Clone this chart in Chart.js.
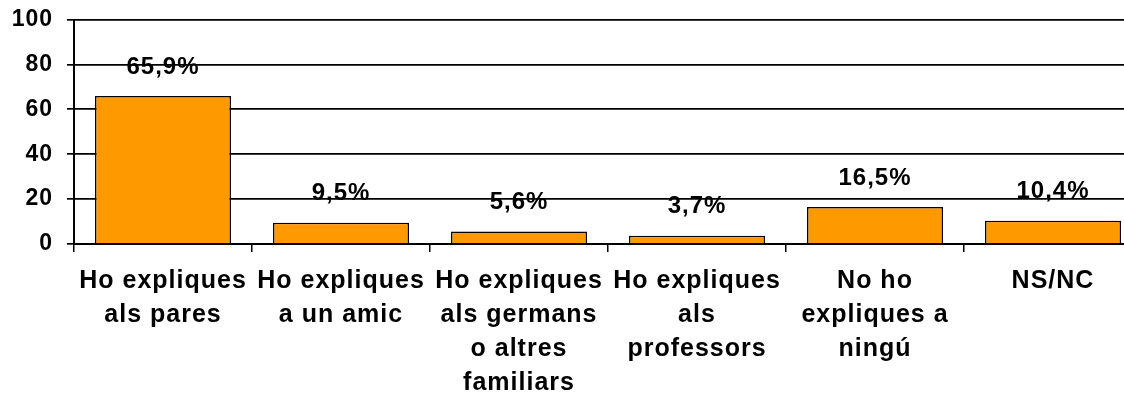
<!DOCTYPE html>
<html>
<head>
<meta charset="utf-8">
<script src="https://cdn.jsdelivr.net/npm/chart.js@4"></script>
<style>
  html, body { margin: 0; padding: 0; background: #ffffff; overflow: hidden; }
  #wrap { width: 1150px; height: 395px; }
</style>
</head>
<body>
<div id="wrap"><canvas id="chart" width="1150" height="395"></canvas></div>
<script>
const categories = [
    ['Ho expliques', 'als pares'],
    ['Ho expliques', 'a un amic'],
    ['Ho expliques', 'als germans', 'o altres', 'familiars'],
    ['Ho expliques', 'als', 'professors'],
    ['No ho', 'expliques a', 'ningú'],
    ['NS/NC']
];
const percentages = [65.9, 9.5, 5.6, 3.7, 16.5, 10.4];
const yTicks = [0, 20, 40, 60, 80, 100];

const FONT = "'Liberation Sans', Arial, sans-serif";

// wider lettering; the canvas state is reset on resize, so set it each update/draw
const wideText = {
    id: 'wideText',
    beforeUpdate(chart) { chart.ctx.letterSpacing = '1px'; },
    beforeDraw(chart) { chart.ctx.letterSpacing = '1px'; }
};

// percentage written above each bar, Catalan decimal comma
const valueLabels = {
    id: 'valueLabels',
    afterDatasetsDraw(chart) {
        const ctx = chart.ctx;
        const meta = chart.getDatasetMeta(0);
        ctx.save();
        ctx.font = 'bold 24px ' + FONT;
        ctx.fillStyle = '#000000';
        ctx.textAlign = 'center';
        ctx.textBaseline = 'middle';
        meta.data.forEach((bar, i) => {
            const txt = percentages[i].toFixed(1).replace('.', ',') + '%';
            ctx.fillText(txt, bar.x, bar.y - 29);
        });
        ctx.restore();
    }
};

new Chart(document.getElementById('chart'), {
    type: 'bar',
    data: {
        labels: categories,
        datasets: [{
            data: percentages,
            backgroundColor: '#ff9900',
            borderColor: '#000000',
            borderWidth: 1.5,
            categoryPercentage: 1.0,
            barPercentage: 0.764
        }]
    },
    options: {
        responsive: false,
        animation: false,
        layout: { padding: { top: 19.5, right: 8, left: 0, bottom: 0 } },
        plugins: {
            legend: { display: false },
            tooltip: { enabled: false }
        },
        scales: {
            x: {
                grid: {
                    display: true,
                    drawOnChartArea: false,
                    drawTicks: true,
                    tickLength: 8,
                    color: '#000000',
                    lineWidth: 1.5
                },
                border: { display: true, color: '#000000', width: 2 },
                ticks: {
                    autoSkip: false,
                    maxRotation: 0,
                    minRotation: 0,
                    padding: 12,
                    color: '#000000',
                    font: { family: FONT, size: 25, weight: 'bold', lineHeight: 1.36 }
                },
                afterFit(scale) { scale.height = 151; }
            },
            y: {
                min: 0,
                max: 100,
                afterBuildTicks(scale) { scale.ticks = yTicks.map(v => ({ value: v })); },
                grid: {
                    color: '#000000',
                    lineWidth: 1.7,
                    drawTicks: true,
                    tickLength: 7
                },
                border: { display: true, color: '#000000', width: 2 },
                ticks: {
                    padding: 14,
                    color: '#000000',
                    font: { family: FONT, size: 23, weight: 'bold' }
                },
                afterFit(scale) {
                    scale.width = 74;
                    scale.paddingTop = 0;
                    scale.paddingBottom = 0;
                }
            }
        }
    },
    plugins: [wideText, valueLabels]
});
</script>
</body>
</html>
